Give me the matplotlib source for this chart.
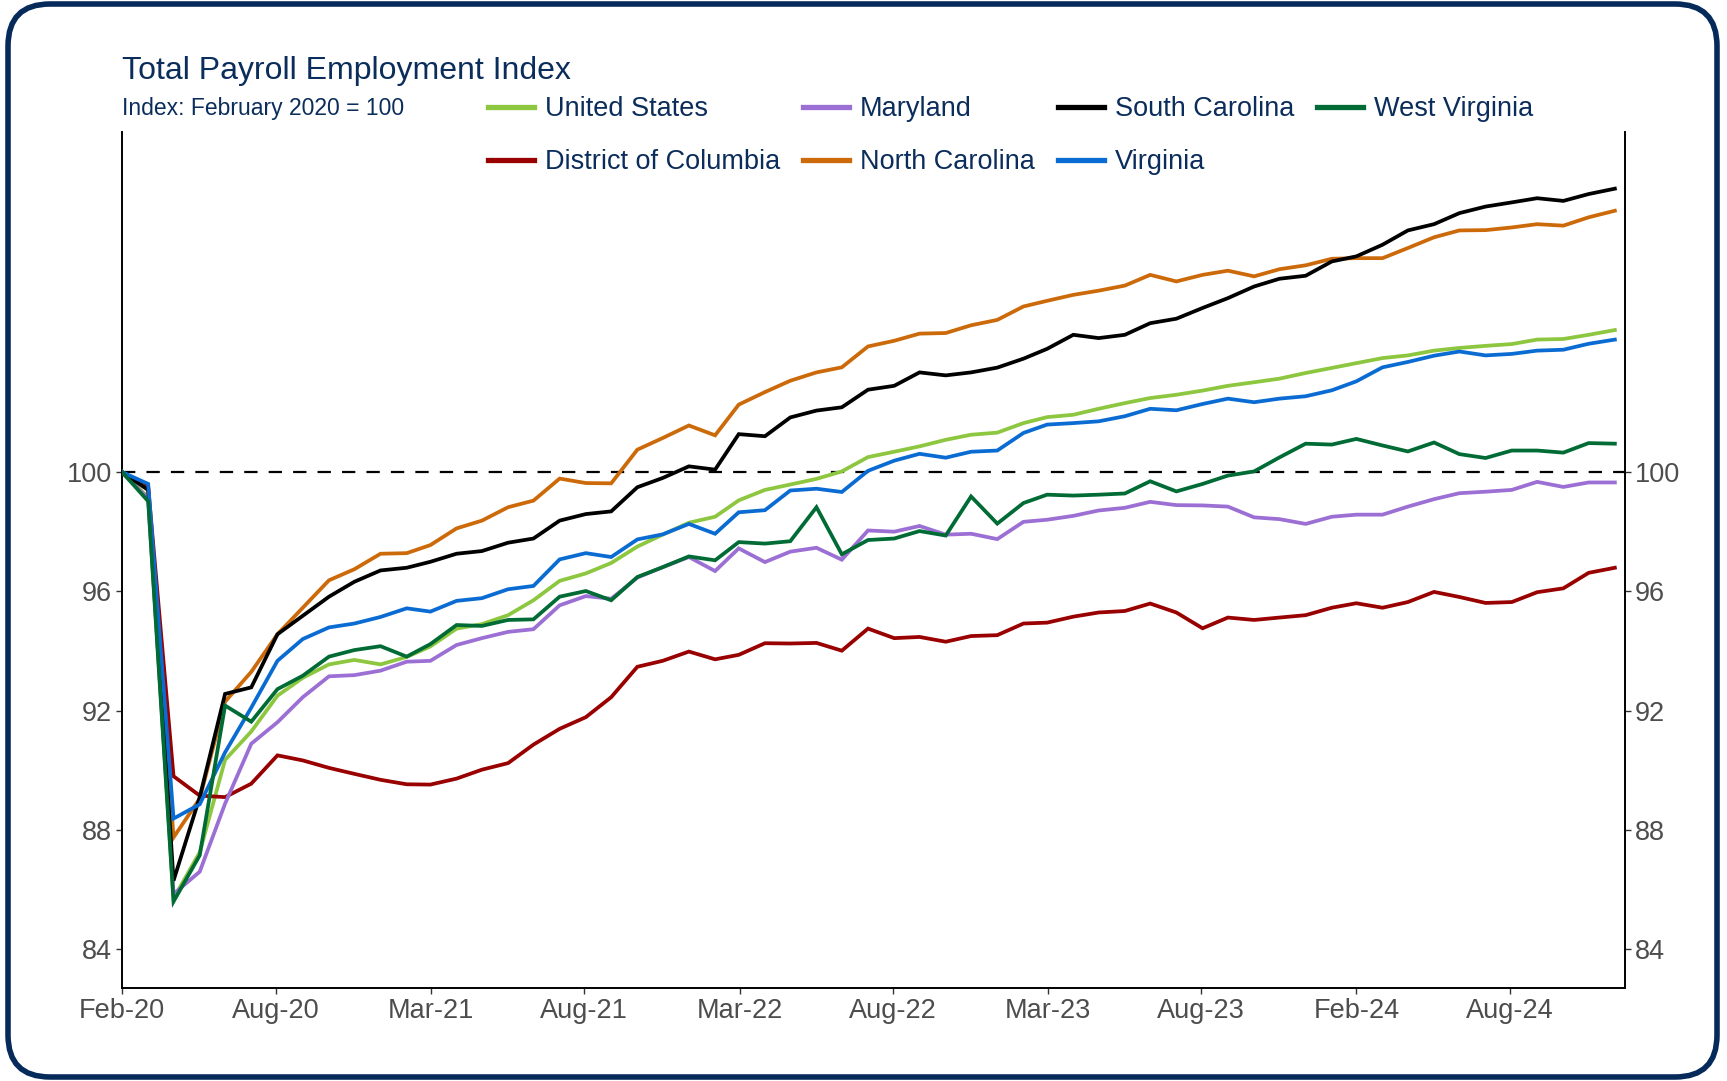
import matplotlib
matplotlib.use("Agg")
import matplotlib.pyplot as plt
import matplotlib.dates as mdates
import matplotlib.transforms as mtransforms
from matplotlib.patches import FancyBboxPatch
from matplotlib.lines import Line2D
import pandas as pd

plt.rcParams['font.family'] = ['Liberation Sans', 'DejaVu Sans']

# ---------------- data ----------------
dates = pd.date_range('2020-02-29', '2024-12-31', freq='ME')

united_states = [100, 99.15, 85.7, 87.25, 90.35, 91.3, 92.5, 93.1, 93.55, 93.7,
                 93.55, 93.8, 94.15, 94.75, 94.9, 95.2, 95.7, 96.35, 96.6, 96.95,
                 97.5, 97.9, 98.3, 98.5, 99.05, 99.4, 99.58, 99.77, 100.02, 100.5,
                 100.68, 100.86, 101.08, 101.25, 101.32, 101.64, 101.84, 101.92, 102.12, 102.31,
                 102.48, 102.59, 102.73, 102.89, 103.01, 103.13, 103.32, 103.49, 103.65, 103.82,
                 103.91, 104.07, 104.16, 104.23, 104.29, 104.44, 104.46, 104.6, 104.76]
district_of_columbia = [100, 99.5, 89.8, 89.15, 89.1, 89.55, 90.5, 90.33, 90.08, 89.88,
                        89.68, 89.53, 89.52, 89.72, 90.02, 90.24, 90.86, 91.39, 91.78, 92.45,
                        93.47, 93.67, 93.98, 93.72, 93.87, 94.26, 94.25, 94.27, 94.01, 94.75,
                        94.43, 94.47, 94.31, 94.5, 94.53, 94.92, 94.95, 95.15, 95.29, 95.34,
                        95.59, 95.29, 94.76, 95.12, 95.04, 95.12, 95.2, 95.45, 95.6, 95.45,
                        95.64, 95.98, 95.81, 95.61, 95.64, 95.97, 96.1, 96.62, 96.79]
maryland = [100, 99.1, 85.85, 86.6, 88.88, 90.89, 91.61, 92.45, 93.15, 93.19,
            93.34, 93.64, 93.67, 94.2, 94.43, 94.64, 94.73, 95.53, 95.84, 95.75,
            96.46, 96.81, 97.15, 96.68, 97.44, 96.98, 97.33, 97.46, 97.06, 98.04,
            98.0, 98.19, 97.9, 97.93, 97.75, 98.33, 98.4, 98.53, 98.71, 98.8,
            99.0, 98.89, 98.88, 98.84, 98.48, 98.42, 98.26, 98.5, 98.57, 98.57,
            98.84, 99.09, 99.29, 99.34, 99.4, 99.67, 99.5, 99.65, 99.65]
north_carolina = [100, 99.4, 87.75, 89.05, 92.3, 93.3, 94.56, 95.45, 96.37, 96.74,
                  97.26, 97.28, 97.55, 98.11, 98.37, 98.82, 99.04, 99.78, 99.63, 99.62,
                  100.75, 101.14, 101.56, 101.23, 102.26, 102.68, 103.06, 103.34, 103.51, 104.21,
                  104.4, 104.64, 104.66, 104.92, 105.1, 105.55, 105.74, 105.94, 106.08, 106.25,
                  106.61, 106.39, 106.61, 106.75, 106.56, 106.8, 106.93, 107.15, 107.17, 107.17,
                  107.51, 107.87, 108.1, 108.11, 108.2, 108.31, 108.26, 108.54, 108.76]
south_carolina = [100, 99.4, 86.3, 89.1, 92.56, 92.78, 94.56, 95.18, 95.82, 96.32,
                  96.7, 96.79, 96.99, 97.26, 97.35, 97.63, 97.77, 98.37, 98.59, 98.68,
                  99.49, 99.8, 100.19, 100.08, 101.27, 101.2, 101.83, 102.06, 102.17, 102.76,
                  102.89, 103.34, 103.24, 103.34, 103.5, 103.8, 104.13, 104.6, 104.49, 104.6,
                  104.99, 105.14, 105.5, 105.83, 106.22, 106.48, 106.58, 107.06, 107.23, 107.62,
                  108.1, 108.31, 108.68, 108.9, 109.04, 109.18, 109.09, 109.32, 109.5]
virginia = [100, 99.6, 88.38, 88.86, 90.6, 92.1, 93.67, 94.4, 94.79, 94.92,
            95.14, 95.43, 95.32, 95.68, 95.77, 96.07, 96.18, 97.07, 97.28, 97.15,
            97.74, 97.91, 98.26, 97.93, 98.65, 98.72, 99.38, 99.44, 99.33, 100.04,
            100.38, 100.61, 100.48, 100.68, 100.72, 101.31, 101.59, 101.64, 101.7, 101.87,
            102.12, 102.07, 102.28, 102.46, 102.34, 102.46, 102.54, 102.74, 103.04, 103.51,
            103.69, 103.9, 104.04, 103.91, 103.96, 104.07, 104.1, 104.3, 104.44]
west_virginia = [100, 99.02, 85.6, 87.15, 92.17, 91.63, 92.72, 93.17, 93.81, 94.03,
                 94.16, 93.81, 94.23, 94.87, 94.84, 95.04, 95.06, 95.82, 96.01, 95.7,
                 96.48, 96.81, 97.17, 97.04, 97.65, 97.6, 97.68, 98.82, 97.24, 97.72,
                 97.77, 98.02, 97.87, 99.18, 98.27, 98.96, 99.24, 99.21, 99.24, 99.28,
                 99.69, 99.35, 99.6, 99.88, 100.02, 100.49, 100.95, 100.92, 101.11, 100.89,
                 100.69, 100.99, 100.6, 100.47, 100.72, 100.72, 100.65, 100.97, 100.95]

series_names = ["United States", "District of Columbia", "Maryland", "North Carolina",
                "South Carolina", "Virginia", "West Virginia"]
series_values = [united_states, district_of_columbia, maryland, north_carolina,
                 south_carolina, virginia, west_virginia]
series_colors = ["#8DC63F", "#990000", "#9B6FD3", "#CC6A0A", "#000000", "#0A6CD2", "#006B35"]

tick_dates = ["2020-02-29", "2020-08-29", "2021-03-01", "2021-08-29", "2022-03-01",
              "2022-08-29", "2023-03-01", "2023-08-29", "2024-02-29", "2024-08-29"]
y_ticks = [84, 88, 92, 96, 100]

title = "Total Payroll Employment Index"
subtitle = "Index: February 2020 = 100"

navy = "#0B2D5B"
tick_grey = "#4D4D4D"

# ---------------- figure ----------------
W, H = 1727, 1081
fig = plt.figure(figsize=(W / 100, H / 100), dpi=100)
fig.patch.set_facecolor("white")

ax = fig.add_axes([122 / W, 1 - 988 / H, (1625 - 122) / W, (988 - 132) / H])
ax.set_facecolor("none")

handles = []
for name, vals, col in zip(series_names, series_values, series_colors):
    ax.plot(dates, vals, color=col, lw=2.7, solid_joinstyle="miter", zorder=3)
    handles.append(Line2D([], [], color=col, lw=3.8, label=name))

ax.axhline(100, color="black", lw=1.6, linestyle=(0, (6, 5)), zorder=2)

ax.set_ylim(82.7, 111.4)
ax.set_xlim(dates[0], dates[-1] + pd.Timedelta(days=12))
ax.set_yticks(y_ticks)
ax.set_yticklabels([str(t) for t in y_ticks])
ax.set_xticks([pd.Timestamp(d) for d in tick_dates])
ax.xaxis.set_major_formatter(mdates.DateFormatter("%b-%y"))

for s in ["left", "bottom", "right"]:
    ax.spines[s].set_color("black")
    ax.spines[s].set_linewidth(1.4)
ax.spines["top"].set_visible(False)

ax.tick_params(axis="both", which="major", direction="out", length=4, width=1.0,
               color="#333333", labelsize=19.5, labelcolor=tick_grey, pad=3)
ax.tick_params(axis="y", right=True, labelright=True)

# ---------------- titles ----------------
fig.text(122 / W, 1 - 71 / H, title, ha="left", va="center", fontsize=23, color=navy)
fig.text(122 / W, 1 - 109 / H, subtitle, ha="left", va="center", fontsize=16.5, color=navy)

leg = fig.legend(handles=handles, ncol=4, loc="upper left",
                 bbox_to_anchor=(488 / W, 1 - 96.5 / H), bbox_transform=fig.transFigure,
                 frameon=False, fontsize=19.5, labelcolor=navy,
                 handlelength=1.7, handletextpad=0.4, columnspacing=0.85,
                 labelspacing=0.99, borderpad=0, borderaxespad=0)

border = FancyBboxPatch((8, 4), 1709, 1073,
                        boxstyle="round,pad=0,rounding_size=42",
                        transform=mtransforms.IdentityTransform(),
                        facecolor="none", edgecolor="#062B5A", linewidth=4.0, zorder=10)
fig.patches.append(border)

fig.savefig("out.png", dpi=100, facecolor="white")
